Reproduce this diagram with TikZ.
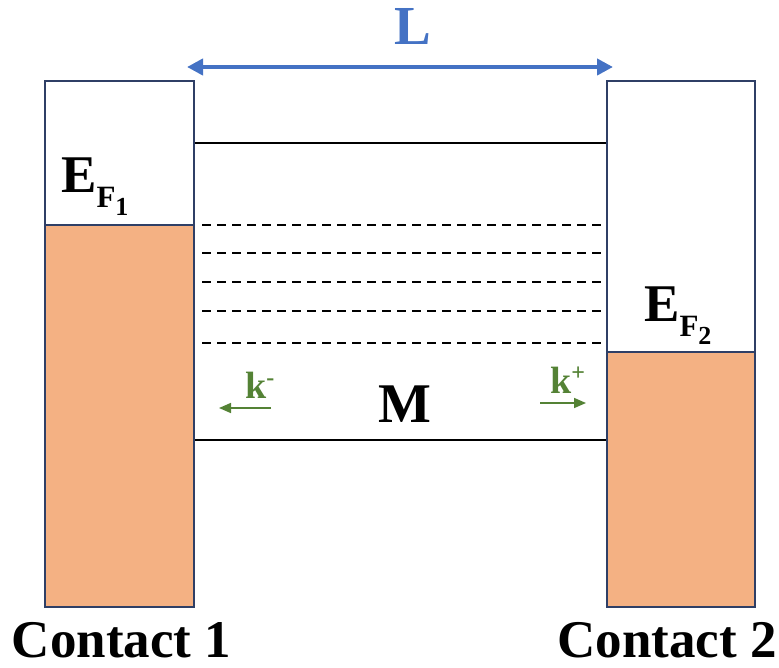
\documentclass[tikz,border=0pt]{standalone}
\usepackage{fontspec}
\setmainfont{Liberation Serif}
\usetikzlibrary{arrows.meta}
\definecolor{fermi}{HTML}{F4B183}
\definecolor{navy}{HTML}{2F3F66}
\definecolor{lblue}{HTML}{4472C4}
\definecolor{kgreen}{HTML}{548235}
\tikzset{
  contactbox/.style={draw=navy, line width=2pt},
  level/.style={draw=black, line width=1.7pt},
  dlevel/.style={draw=black, line width=1.6pt, dash pattern=on 9pt off 6pt},
  lbl/.style={inner sep=0pt, font=\bfseries},
  karrow/.style={draw=kgreen, line width=1.6pt, -{Triangle[length=12pt,width=10pt]}},
}
\newcommand{\EFlabel}[1]{{\fontsize{53}{53}\selectfont E}\raisebox{-15pt}{\fontsize{31}{31}\selectfont F\raisebox{-8pt}{\fontsize{26}{26}\selectfont #1}}}
\begin{document}
\begin{tikzpicture}[x=1pt,y=-1pt]
\useasboundingbox (0,0) rectangle (779,668);
% contacts
\fill[fermi] (45,225) rectangle (194,607);
\draw[contactbox] (45,81) rectangle (194,607);
\draw[navy, line width=2pt] (45,225) -- (194,225);
\fill[fermi] (607,352) rectangle (755,607);
\draw[contactbox] (607,81) rectangle (755,607);
\draw[navy, line width=2pt] (607,352) -- (755,352);
% energy levels
\coordinate (t1) at (195,143); \coordinate (t2) at (606,143);
\coordinate (b1) at (195,440); \coordinate (b2) at (606,440);
\draw[level] (t1) -- (t2);
\draw[level] (b1) -- (b2);
\foreach \y in {225,253,282,311,343}{
  \draw[dlevel] (202,\y) -- (606,\y);
}
% L arrow
\coordinate (la) at (187,67); \coordinate (lb) at (613,67);
\draw[lblue, line width=4pt, {Triangle[length=16pt,width=16pt]}-{Triangle[length=16pt,width=16pt]}] (la) -- (lb);
\node[lbl, text=lblue, anchor=base, text height=36pt, text depth=0pt, font=\bfseries\fontsize{55}{55}\selectfont] (L) at (413,45) {L};
% Fermi labels
\node[lbl, anchor=base west] (EF1) at (61,193) {\EFlabel{1}};
\node[lbl, anchor=base west] (EF2) at (644,322) {\EFlabel{2}};
% M
\node[lbl, anchor=base, font=\bfseries\fontsize{56}{56}\selectfont] (M) at (405,422) {M};
% k labels
\node[lbl, anchor=base west, text=kgreen, font=\bfseries\fontsize{38}{38}\selectfont] (km) at (245,398) {k\raisebox{13pt}{\fontsize{24}{24}\selectfont -}};
\node[lbl, anchor=base west, text=kgreen, font=\bfseries\fontsize{38}{38}\selectfont] (kp) at (550,393) {k\raisebox{13pt}{\fontsize{24}{24}\selectfont +}};
\coordinate (kma) at (271,408); \coordinate (kmb) at (219,408);
\draw[karrow] (kma) -- (kmb);
\coordinate (kpa) at (540,403); \coordinate (kpb) at (586,403);
\draw[karrow] (kpa) -- (kpb);
% contact labels
\node[lbl, anchor=base, font=\bfseries\fontsize{53}{53}\selectfont] (c1) at (121.5,657) {Contact 1};
\node[lbl, anchor=base, font=\bfseries\fontsize{53}{53}\selectfont] (c2) at (667,657) {Contact 2};
\end{tikzpicture}
\end{document}
